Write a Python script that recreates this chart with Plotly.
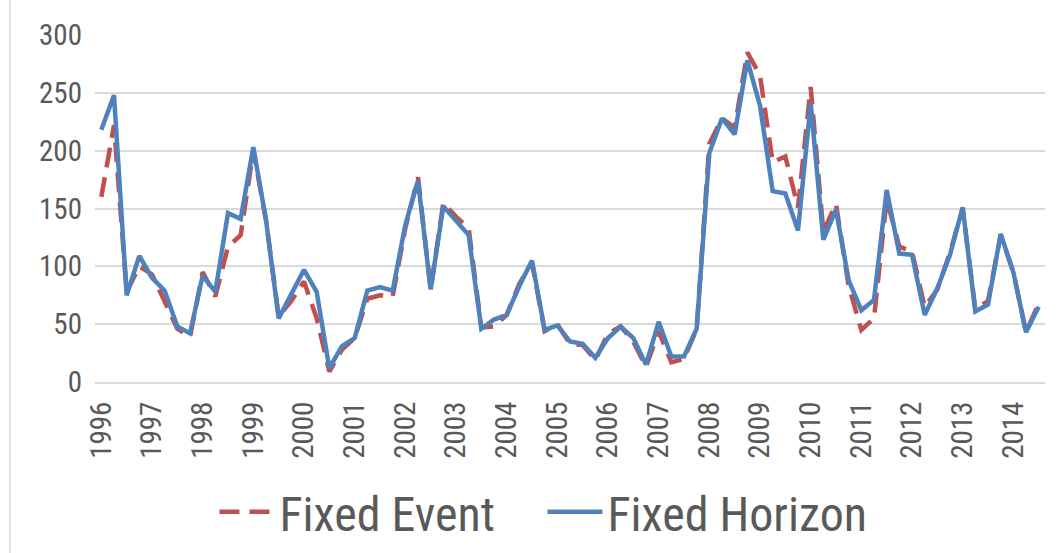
import plotly.graph_objects as go

# Quarterly observations, 1996 Q1 through 2014 Q3
years = [str(y) for y in range(1996, 2015)]
quarters = [f"{y} Q{q}" for y in range(1996, 2015) for q in range(1, 5)][:75]

fixed_event = [
    160, 222, 78, 100, 93, 70, 46, 39, 95, 74,
    117, 127, 200, 140, 57, 70, 87, 55, 9, 28,
    38, 72, 75, 74, 133, 177, 80, 155, 143, 133,
    47, 48, 58, 85, 103, 44, 50, 33, 32, 19,
    42, 48, 35, 13, 44, 17, 20, 46, 206, 228,
    220, 285, 265, 190, 195, 151, 255, 130, 154, 83,
    45, 55, 158, 117, 113, 65, 80, 112, 150, 63,
    70, 127, 95, 43, 68,
]

fixed_horizon = [
    218, 248, 75, 109, 90, 79, 48, 42, 92, 78,
    146, 141, 203, 140, 55, 76, 97, 78, 12, 31,
    38, 79, 82, 79, 136, 174, 80, 152, 140, 127,
    46, 54, 58, 83, 105, 45, 49, 35, 33, 21,
    38, 48, 38, 15, 52, 22, 22, 46, 198, 228,
    214, 278, 239, 165, 163, 131, 241, 123, 149, 88,
    62, 71, 166, 111, 110, 58, 81, 110, 151, 61,
    67, 128, 95, 43, 65,
]

y_ticks = [0, 50, 100, 150, 200, 250, 300]

FONT = "Liberation Sans Narrow, Roboto Condensed, Arial Narrow, sans-serif"
TEXT_GREY = "#595959"
GRID_GREY = "#D9D9D9"

idx = list(range(len(quarters)))

fig = go.Figure()
fig.add_trace(go.Scatter(
    x=idx, y=fixed_event, name="Fixed Event", mode="lines",
    line=dict(color="#C0504D", width=4.5, dash="20px,10px"),
    customdata=quarters, hovertemplate="%{customdata}: %{y}<extra>Fixed Event</extra>",
))
fig.add_trace(go.Scatter(
    x=idx, y=fixed_horizon, name="Fixed Horizon", mode="lines",
    line=dict(color="#4F81BD", width=4.5),
    customdata=quarters, hovertemplate="%{customdata}: %{y}<extra>Fixed Horizon</extra>",
))

fig.update_layout(
    width=1057, height=553,
    margin=dict(l=95, r=12, t=35, b=171, autoexpand=False),
    paper_bgcolor="white", plot_bgcolor="white",
    font=dict(family=FONT, color=TEXT_GREY, size=29),
    showlegend=True,
    legend=dict(
        orientation="h", x=0.471, xanchor="center", y=-0.375, yanchor="middle",
        font=dict(size=48, color=TEXT_GREY), itemwidth=55,
        entrywidth=258, entrywidthmode="pixels",
        tracegroupgap=0,
    ),
    xaxis=dict(
        range=[-0.5, len(quarters) - 0.5],
        tickmode="array", tickvals=idx[::4], ticktext=years,
        tickangle=-90, showgrid=False, zeroline=False,
        showline=True, linecolor=GRID_GREY, linewidth=2,
        ticks="", ticklabelstandoff=6,
        tickfont=dict(size=29, color=TEXT_GREY),
    ),
    yaxis=dict(
        range=[0, 300], tickmode="array", tickvals=y_ticks,
        showgrid=True, gridcolor=GRID_GREY, gridwidth=2,
        zeroline=False, showline=False, ticks="",
        ticklabelstandoff=12,
        tickfont=dict(size=29, color=TEXT_GREY),
    ),
    shapes=[dict(
        type="line", xref="paper", yref="paper",
        x0=-85 / 950, x1=-85 / 950, y0=-171 / 347, y1=1 + 35 / 347,
        line=dict(color=GRID_GREY, width=1.5),
    )],
)

fig.write_html("out.html")
